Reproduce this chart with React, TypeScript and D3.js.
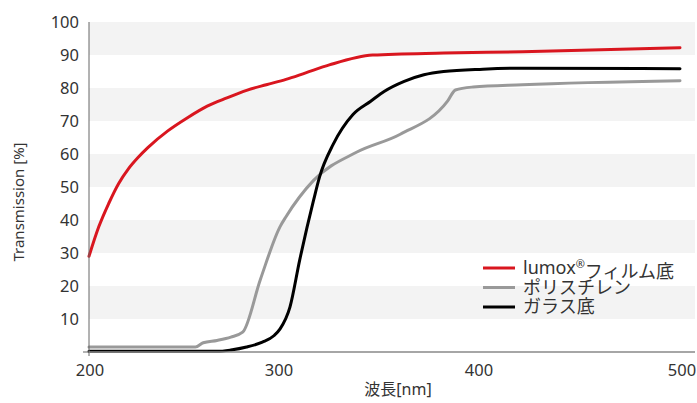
import React from 'react';
import * as d3 from 'd3';

// wavelength [nm] / transmission [%]
const redNm = [200, 205, 210, 215, 220, 225, 230, 240, 250, 260, 270, 280, 290, 300, 310, 322, 344, 380, 420, 500];
const redVal = [29, 38, 45, 51, 55.5, 59, 62, 67, 71, 74.5, 77, 79.3, 81, 82.6, 84.6, 87, 90, 90.6, 91, 92.2];

const grayNm = [200, 254, 258, 265, 272, 278, 287, 297, 300, 314, 336, 358, 382, 386, 395, 420, 500];
const grayVal = [1.5, 1.5, 2.8, 3.5, 4.5, 6, 22, 38, 41, 52, 60.6, 66, 76, 79.4, 80.3, 81, 82.2];

const blackNm = [200, 265, 272, 280, 288, 294, 297, 302, 307, 314, 317, 324, 334, 343, 350, 360, 370, 380, 400, 420, 500];
const blackVal = [0.2, 0.2, 0.6, 1.5, 3, 5, 7, 13.6, 28, 46, 53, 63, 72, 76, 79, 82, 84, 85, 85.7, 86, 85.8];

const xTicks = [200, 300, 400, 500];
const yTicks = [10, 20, 30, 40, 50, 60, 70, 80, 90, 100];
const bandStarts = [10, 30, 50, 70, 90];

const series = [
  { name: 'lumox', sup: '®', rest: 'フィルム底', nm: redNm, val: redVal, color: '#d9161f' },
  { name: 'ポリスチレン', sup: '', rest: '', nm: grayNm, val: grayVal, color: '#999999' },
  { name: 'ガラス底', sup: '', rest: '', nm: blackNm, val: blackVal, color: '#000000' },
];

const font = '"Noto Sans", "Noto Sans CJK JP", sans-serif';

export default function App() {
  const width = 697, height = 403;
  const left = 89, right = 695, top = 22, bottom = 352;

  const x = d3.scaleLinear().domain([200, 500]).range([left, 680]);
  const y = d3.scaleLinear().domain([0, 100]).range([bottom, top]);

  const line = d3.line<[number, number]>()
    .x(d => x(d[0]))
    .y(d => y(d[1]))
    .curve(d3.curveMonotoneX);

  // small nudges so the tick labels sit where the reference has them
  const xLabelShift: Record<number, number> = { 200: 1, 300: -7, 400: -4, 500: 2 };

  return (
    <svg width={width} height={height} style={{ position: 'absolute', left: 0, top: 0 }} fontFamily={font}>
      <rect width={width} height={height} fill="#fff" />
      {/* grey bands */}
      {bandStarts.map(b => (
        <rect key={b} x={left} width={right - left} y={y(b + 10)} height={y(b) - y(b + 10)} fill="#f3f3f3" />
      ))}

      {/* curves */}
      {series.map(s => (
        <path key={s.name}
          d={line(s.nm.map((n, i) => [n, s.val[i]] as [number, number])) || ''}
          fill="none" stroke={s.color} strokeWidth={3} strokeLinejoin="round" strokeLinecap="round" />
      ))}

      {/* axes */}
      <line x1={left} x2={left} y1={top} y2={bottom + 4} stroke="#666" strokeWidth={1} />
      <line x1={left - 6} x2={left} y1={bottom} y2={bottom} stroke="#666" strokeWidth={1} />
      <line x1={left} x2={right} y1={bottom} y2={bottom} stroke="#888" strokeWidth={1.6} />

      {yTicks.map(t => (
        <text key={t} x={79} y={y(t)} dy="0.35em" textAnchor="end" fontSize={16.5} fill="#333">{t}</text>
      ))}
      {xTicks.map(t => (
        <text key={t} x={x(t) + xLabelShift[t]} y={376} textAnchor="middle" fontSize={16.5} fill="#333">{t}</text>
      ))}

      <text transform={`translate(24,202) rotate(-90)`} textAnchor="middle" fontSize={15} fill="#333">Transmission [%]</text>
      <text x={398} y={395} textAnchor="middle" fontSize={16} fill="#333">波長[nm]</text>

      {/* legend */}
      {series.map((s, i) => (
        <g key={s.name} transform={`translate(483,${268 + i * 19.5})`}>
          <line x1={0} x2={32} y1={0} y2={0} stroke={s.color} strokeWidth={3} />
          <text x={40} y={0} dy="0.35em" fontSize={18} fill="#333">
            {s.name}
            {s.sup && <tspan fontSize={11} dy="-0.55em">{s.sup}</tspan>}
            {s.rest && <tspan dy="0.55em" fontSize={18}>{s.rest}</tspan>}
          </text>
        </g>
      ))}
    </svg>
  );
}
